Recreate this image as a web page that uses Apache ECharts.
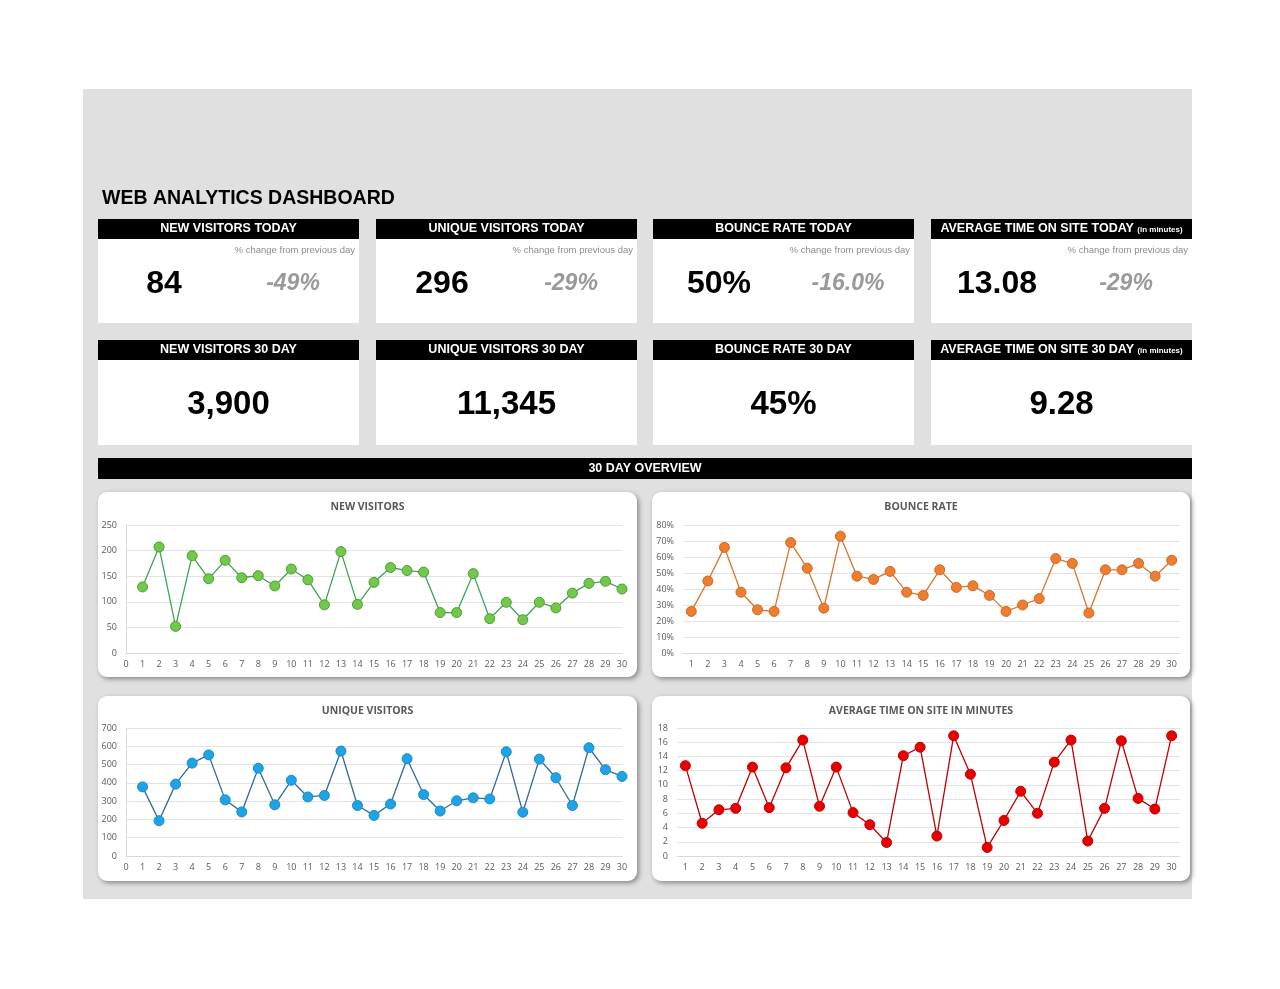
<!DOCTYPE html>
<html>
<head>
<meta charset="utf-8">
<title>Web Analytics Dashboard</title>
<script src="https://cdn.jsdelivr.net/npm/echarts@6/dist/echarts.min.js"></script>
<style>
  html, body { margin: 0; padding: 0; background: #fff; }
  #dash { width: 1280px; height: 989px; }
</style>
</head>
<body>
<div id="dash"></div>
<script>
// --- data ---
var days = ['1', '2', '3', '4', '5', '6', '7', '8', '9', '10', '11', '12', '13', '14', '15',
  '16', '17', '18', '19', '20', '21', '22', '23', '24', '25', '26', '27', '28', '29', '30']
var newVisitors = [129, 207, 52, 190, 145, 181, 147, 151, 131, 164, 143, 94, 198, 95, 138,
  167, 161, 158, 79, 79, 155, 67, 99, 65, 99, 88, 117, 136, 140, 125]
var bounceRate = [26, 45, 66, 38, 27, 26, 69, 53, 28, 73, 48, 46, 51, 38, 36,
  52, 41, 42, 36, 26, 30, 34, 59, 56, 25, 52, 52, 56, 48, 58]
var uniqueVisitors = [378, 193, 393, 508, 553, 307, 241, 480, 280, 414, 323, 331, 574, 276, 222,
  284, 532, 336, 246, 302, 318, 312, 570, 239, 530, 428, 276, 592, 472, 435]
var avgTime = [12.7, 4.6, 6.5, 6.7, 12.5, 6.8, 12.4, 16.3, 7.0, 12.5, 6.1, 4.4, 1.9, 14.1, 15.3,
  2.8, 16.9, 11.5, 1.2, 5.0, 9.1, 6.0, 13.2, 16.3, 2.1, 6.7, 16.2, 8.1, 6.6, 16.9]

// today KPI cards
var todayTitles = ['NEW VISITORS TODAY', 'UNIQUE VISITORS TODAY', 'BOUNCE RATE TODAY', 'AVERAGE TIME ON SITE TODAY']
var todayValues = ['84', '296', '50%', '13.08']
var todayChange = ['-49%', '-29%', '-16.0%', '-29%']
var monthTitles = ['NEW VISITORS 30 DAY', 'UNIQUE VISITORS 30 DAY', 'BOUNCE RATE 30 DAY', 'AVERAGE TIME ON SITE 30 DAY']
var chartTitles = ['NEW VISITORS', 'BOUNCE RATE', 'UNIQUE VISITORS', 'AVERAGE TIME ON SITE IN MINUTES']

function sum(arr) {
  var s = 0
  for (var i = 0; i < arr.length; i++) s += arr[i]
  return s
}
var monthValues = [
  sum(newVisitors).toLocaleString('en-US'),
  sum(uniqueVisitors).toLocaleString('en-US'),
  Math.round(sum(bounceRate) / bounceRate.length) + '%',
  (sum(avgTime) / avgTime.length).toFixed(2)
]

// --- layout ---
var kpiFont = '"Liberation Sans", Arial, sans-serif'
var chartFont = '"Open Sans", sans-serif'
var cardX = [98, 376, 653, 931]
var cardW = [261, 261, 261, 261]

var graphics = []
// grey sheet
graphics.push({ type: 'rect', z: 0, shape: { x: 83, y: 89, width: 1109, height: 810 }, style: { fill: '#e0e0e0' } })
graphics.push({
  type: 'text', z: 1, x: 102, y: 199,
  style: { text: 'WEB ANALYTICS DASHBOARD', fill: '#000', font: 'bold 19.5px ' + kpiFont, verticalAlign: 'middle' }
})

function headerText(title, cx, cy) {
  var isTime = title.indexOf('AVERAGE TIME') === 0
  return {
    type: 'text', z: 2, x: cx, y: cy,
    style: {
      text: isTime ? '{a|' + title + '} {b|(in minutes)}' : '{a|' + title + '}',
      align: 'center', verticalAlign: 'middle',
      rich: {
        a: { fill: '#fff', font: 'bold 12.5px ' + kpiFont, verticalAlign: 'middle' },
        b: { fill: '#fff', font: 'bold 8px ' + kpiFont, verticalAlign: 'middle', padding: [2, 0, 0, 0] }
      }
    }
  }
}

for (var i = 0; i < 4; i++) {
  var x = cardX[i], w = cardW[i], cx = x + w / 2
  // row 1: today
  graphics.push({ type: 'rect', z: 1, shape: { x: x, y: 219, width: w, height: 20 }, style: { fill: '#000' } })
  graphics.push({ type: 'rect', z: 1, shape: { x: x, y: 239, width: w, height: 84 }, style: { fill: '#fff' } })
  graphics.push(headerText(todayTitles[i], cx, 229))
  graphics.push({
    type: 'text', z: 2, x: x + w - 4, y: 250,
    style: { text: '% change from previous day', fill: '#8c8c8c', font: '9.5px ' + kpiFont, align: 'right', verticalAlign: 'middle' }
  })
  graphics.push({
    type: 'text', z: 2, x: x + 66, y: 284,
    style: { text: todayValues[i], fill: '#000', font: 'bold 32px ' + kpiFont, align: 'center', verticalAlign: 'middle' }
  })
  graphics.push({
    type: 'text', z: 2, x: x + 195, y: 284,
    style: { text: todayChange[i], fill: '#999', font: 'italic bold 23px ' + kpiFont, align: 'center', verticalAlign: 'middle' }
  })
  // row 2: 30 day
  graphics.push({ type: 'rect', z: 1, shape: { x: x, y: 340, width: w, height: 20 }, style: { fill: '#000' } })
  graphics.push({ type: 'rect', z: 1, shape: { x: x, y: 360, width: w, height: 85 }, style: { fill: '#fff' } })
  graphics.push(headerText(monthTitles[i], cx, 350))
  graphics.push({
    type: 'text', z: 2, x: cx, y: 405,
    style: { text: monthValues[i], fill: '#000', font: 'bold 33px ' + kpiFont, align: 'center', verticalAlign: 'middle' }
  })
}

// 30 day overview bar
graphics.push({ type: 'rect', z: 1, shape: { x: 98, y: 458, width: 1094, height: 21 }, style: { fill: '#000' } })
graphics.push({
  type: 'text', z: 2, x: 645, y: 469,
  style: { text: '30 DAY OVERVIEW', fill: '#fff', font: 'bold 12.5px ' + kpiFont, align: 'center', verticalAlign: 'middle' }
})

// chart panels
var panels = [
  { x: 98, y: 492, w: 539, h: 185 },
  { x: 652, y: 492, w: 538, h: 185 },
  { x: 98, y: 696, w: 539, h: 185 },
  { x: 652, y: 696, w: 538, h: 185 }
]
for (var p = 0; p < panels.length; p++) {
  var pn = panels[p]
  graphics.push({
    type: 'rect', z: 1,
    shape: { x: pn.x, y: pn.y, width: pn.w, height: pn.h, r: 9 },
    style: { fill: '#fff', shadowBlur: 5, shadowOffsetX: 2, shadowOffsetY: 2, shadowColor: 'rgba(0,0,0,0.4)' }
  })
  graphics.push({
    type: 'text', z: 2, x: pn.x + pn.w / 2, y: pn.y + 15,
    style: { text: chartTitles[p], fill: '#595959', font: 'bold 10.5px ' + chartFont, align: 'center', verticalAlign: 'middle' }
  })
}

// --- axes ---
var labelStyle = { color: '#595959', fontSize: 9, fontFamily: chartFont }
var gridLine = { lineStyle: { color: '#e3e3e3', width: 1 } }

function valueX(gi) {
  return {
    gridIndex: gi, type: 'value', min: 0, max: 30, interval: 1, z: 3,
    axisLine: { show: true, lineStyle: { color: '#d9d9d9' } },
    axisTick: { show: false }, splitLine: { show: false },
    axisLabel: Object.assign({ margin: 7 }, labelStyle)
  }
}
function categoryX(gi) {
  return {
    gridIndex: gi, type: 'category', data: days, boundaryGap: true, z: 3,
    axisLine: { show: true, lineStyle: { color: '#d9d9d9' } },
    axisTick: { show: false },
    axisLabel: Object.assign({ margin: 7, interval: 0 }, labelStyle)
  }
}
function valueY(gi, max, interval, fmt, showLine) {
  return {
    gridIndex: gi, type: 'value', min: 0, max: max, interval: interval, z: 3,
    axisLine: { show: showLine, lineStyle: { color: '#d9d9d9' } },
    axisTick: { show: false }, splitLine: gridLine,
    axisLabel: Object.assign({ margin: 9, formatter: fmt }, labelStyle)
  }
}

function pairs(values) {
  var out = []
  for (var i = 0; i < values.length; i++) out.push([Number(days[i]), values[i]])
  return out
}

function lineSeries(gi, data, lineColor, fill, border) {
  return {
    type: 'line', xAxisIndex: gi, yAxisIndex: gi, z: 5,
    data: data, symbol: 'circle', symbolSize: 10, showAllSymbol: true,
    lineStyle: { color: lineColor, width: 1.3 },
    itemStyle: { color: fill, borderColor: border, borderWidth: 1 },
    emphasis: { disabled: true }
  }
}

var chart = echarts.init(document.getElementById('dash'))
chart.setOption({
  animation: false,
  backgroundColor: '#fff',
  graphic: graphics,
  grid: [
    { left: 126, top: 525, width: 496, height: 128 },
    { left: 683, top: 525, width: 497, height: 128 },
    { left: 126, top: 728, width: 496, height: 128 },
    { left: 677, top: 728, width: 503, height: 128 }
  ],
  xAxis: [valueX(0), categoryX(1), valueX(2), categoryX(3)],
  yAxis: [
    valueY(0, 250, 50, '{value}', true),
    valueY(1, 80, 10, '{value}%', false),
    valueY(2, 700, 100, '{value}', true),
    valueY(3, 18, 2, '{value}', false)
  ],
  series: [
    lineSeries(0, pairs(newVisitors), '#3aa655', '#72c84a', '#4e9e2e'),
    lineSeries(1, bounceRate, '#d9742b', '#ed7d31', '#d06a20'),
    lineSeries(2, pairs(uniqueVisitors), '#2f6a9e', '#1ea4e6', '#168cc8'),
    lineSeries(3, avgTime, '#c00000', '#e80000', '#c00000')
  ]
})
</script>
</body>
</html>
